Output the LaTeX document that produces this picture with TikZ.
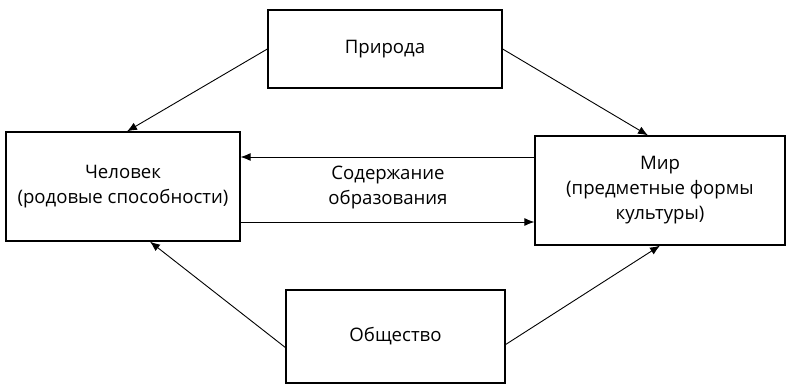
\documentclass[tikz,border=0pt]{standalone}
\usepackage{fontspec}
\setmainfont{Open Sans}
\usetikzlibrary{arrows.meta}

\begin{document}
\begin{tikzpicture}[x=1pt,y=-1pt,
  blok/.style={draw, line width=1.3pt, align=center, inner sep=0pt,
    font=\fontsize{18.6}{25}\selectfont},
  strel/.style={-{Latex[length=10pt,width=8pt]}, line width=0.9pt}]

 \useasboundingbox (0,0) rectangle (790,390);

 %boxes
 \node[blok, minimum width=234pt, minimum height=78pt] (prir) at (385,49) {Природа};
 \node[blok, minimum width=234pt, minimum height=109pt] (chel) at (123,186.5) {Человек\\(родовые способности)};
 \node[blok, minimum width=250pt, minimum height=109pt] (mir) at (660,190.5) {Мир\\(предметные формы\\культуры)};
 \node[blok, minimum width=219pt, minimum height=93pt] (obsh) at (395.5,336.5) {Общество};

 \node[align=center, font=\fontsize{18.6}{25}\selectfont] (sod) at (388,188) {Содержание\\образования};

 \coordinate (upY) at (0,157);
 \coordinate (loY) at (0,222);

 %arrows
 \draw[strel] (prir.west) -- ([xshift=4pt]chel.north);
 \draw[strel] (prir.east) -- ([xshift=-12pt]mir.north);
 \draw[strel] ([yshift=-11pt]obsh.west) -- ([xshift=27pt]chel.south);
 \draw[strel] ([yshift=-8pt]obsh.east) -- (mir.south);

 \draw[strel] (mir.west |- upY) -- (chel.east |- upY);
 \draw[strel] (chel.east |- loY) -- (mir.west |- loY);

\end{tikzpicture}
\end{document}
